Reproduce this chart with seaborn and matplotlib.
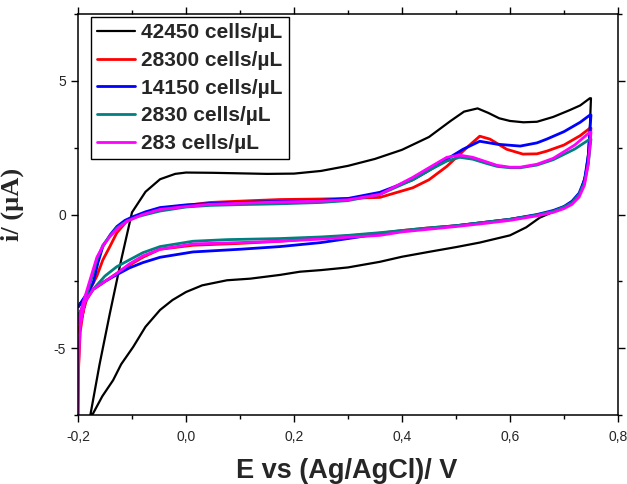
import numpy as np
import pandas as pd
import matplotlib
matplotlib.use("Agg")
import matplotlib.pyplot as plt
import matplotlib.ticker as mticker
import seaborn as sns

# potential (V) / current (uA): forward scan then reverse scan
e_42450 = [-0.178, -0.16, -0.141, -0.12, -0.10, -0.075, -0.048, -0.02, 0.0, 0.05, 0.10, 0.15, 0.20,
           0.25, 0.30, 0.35, 0.40, 0.45, 0.49, 0.515, 0.54, 0.56, 0.58, 0.60, 0.625, 0.65, 0.68, 0.71,
           0.73, 0.748,
           0.75, 0.748, 0.745, 0.74, 0.73, 0.715, 0.70, 0.68, 0.655, 0.63, 0.60, 0.544, 0.50, 0.452,
           0.40, 0.359, 0.30, 0.25, 0.211, 0.174, 0.119, 0.076, 0.03, 0.0, -0.025, -0.048, -0.075,
           -0.098, -0.12, -0.135, -0.155, -0.172, -0.18]
i_42450 = [-7.6, -5.6, -3.7, -1.7, 0.08, 0.85, 1.32, 1.52, 1.57, 1.56, 1.54, 1.52, 1.53,
           1.63, 1.82, 2.08, 2.42, 2.9, 3.5, 3.85, 3.97, 3.8, 3.6, 3.5, 3.45, 3.47, 3.65, 3.9,
           4.08, 4.35,
           4.35, 3.3, 2.3, 1.5, 0.8, 0.45, 0.3, 0.1, -0.12, -0.48, -0.78, -1.05, -1.22, -1.39,
           -1.58, -1.77, -1.98, -2.08, -2.14, -2.26, -2.4, -2.46, -2.65, -2.9, -3.2, -3.57, -4.2,
           -4.96, -5.6, -6.2, -6.8, -7.44, -7.7]

e_28300 = [-0.2, -0.19, -0.18, -0.165, -0.154, -0.141, -0.128, -0.11, -0.09, -0.072, -0.045, -0.017,
           0.044, 0.10, 0.174, 0.25, 0.30, 0.359, 0.42, 0.45, 0.483, 0.52, 0.544, 0.563, 0.594, 0.624,
           0.65, 0.668, 0.70, 0.73, 0.748,
           0.75, 0.745, 0.738, 0.728, 0.715, 0.70, 0.68, 0.65, 0.60, 0.55, 0.50, 0.45, 0.40, 0.359,
           0.30, 0.25, 0.174, 0.10, 0.013, -0.048, -0.08, -0.105, -0.128, -0.15, -0.172, -0.188,
           -0.196, -0.199, -0.2]
i_28300 = [-4.4, -3.6, -2.9, -2.3, -1.7, -1.2, -0.68, -0.26, -0.05, 0.07, 0.2, 0.3,
           0.45, 0.5, 0.56, 0.58, 0.6, 0.64, 1.0, 1.3, 1.8, 2.5, 2.93, 2.82, 2.44, 2.26,
           2.27, 2.37, 2.6, 2.95, 3.23,
           3.23, 2.0, 1.2, 0.72, 0.42, 0.25, 0.1, -0.02, -0.18, -0.3, -0.42, -0.5, -0.6, -0.7,
           -0.8, -0.88, -1.0, -1.08, -1.15, -1.3, -1.6, -1.9, -2.2, -2.5, -2.8, -3.3,
           -4.4, -5.8, -7.8]

e_14150 = [-0.2, -0.185, -0.172, -0.163, -0.154, -0.14, -0.128, -0.113, -0.098, -0.075, -0.048, 0.0,
           0.044, 0.10, 0.174, 0.25, 0.30, 0.359, 0.42, 0.45, 0.483, 0.513, 0.544, 0.576, 0.619, 0.65,
           0.668, 0.70, 0.73, 0.748,
           0.75, 0.745, 0.738, 0.728, 0.715, 0.70, 0.68, 0.65, 0.60, 0.55, 0.50, 0.45, 0.40, 0.359,
           0.30, 0.25, 0.174, 0.10, 0.013, -0.048, -0.08, -0.105, -0.128, -0.15, -0.172, -0.188, -0.2]
i_14150 = [-3.46, -3.0, -2.56, -1.8, -1.2, -0.75, -0.45, -0.22, -0.08, 0.1, 0.26, 0.36,
           0.41, 0.45, 0.49, 0.53, 0.6, 0.83, 1.3, 1.65, 2.07, 2.44, 2.74, 2.63, 2.56, 2.68,
           2.82, 3.1, 3.45, 3.72,
           3.72, 2.2, 1.3, 0.8, 0.5, 0.3, 0.15, 0.0, -0.18, -0.3, -0.42, -0.52, -0.62, -0.72,
           -0.9, -1.05, -1.2, -1.3, -1.4, -1.6, -1.8, -2.0, -2.25, -2.5, -2.8, -3.15, -3.46]

e_2830 = [-0.2, -0.19, -0.183, -0.172, -0.165, -0.154, -0.141, -0.128, -0.11, -0.09, -0.048, 0.0,
          0.044, 0.10, 0.174, 0.25, 0.30, 0.359, 0.42, 0.45, 0.483, 0.507, 0.531, 0.555, 0.576, 0.60,
          0.619, 0.65, 0.68, 0.72, 0.748,
          0.75, 0.745, 0.738, 0.728, 0.715, 0.70, 0.68, 0.65, 0.60, 0.55, 0.50, 0.45, 0.40, 0.359,
          0.30, 0.25, 0.174, 0.076, 0.013, -0.048, -0.08, -0.105, -0.128, -0.15, -0.172, -0.188, -0.2]
i_2830 = [-3.83, -3.4, -2.95, -2.2, -1.7, -1.15, -0.8, -0.5, -0.25, -0.08, 0.13, 0.28,
          0.34, 0.37, 0.4, 0.45, 0.52, 0.75, 1.3, 1.65, 2.0, 2.14, 2.07, 1.92, 1.8, 1.75,
          1.75, 1.85, 2.05, 2.45, 2.82,
          2.82, 1.9, 1.2, 0.75, 0.45, 0.28, 0.12, -0.02, -0.18, -0.3, -0.42, -0.5, -0.6, -0.68,
          -0.78, -0.84, -0.9, -0.94, -1.0, -1.2, -1.43, -1.7, -1.95, -2.3, -2.8, -3.3, -3.83]

e_283 = [-0.2, -0.192, -0.183, -0.174, -0.165, -0.153, -0.141, -0.125, -0.11, -0.08, -0.048, 0.0,
         0.044, 0.10, 0.174, 0.25, 0.30, 0.359, 0.42, 0.45, 0.483, 0.507, 0.531, 0.555, 0.576, 0.60,
         0.619, 0.65, 0.68, 0.72, 0.748,
         0.75, 0.745, 0.738, 0.728, 0.715, 0.70, 0.68, 0.65, 0.60, 0.55, 0.50, 0.45, 0.40, 0.359,
         0.30, 0.25, 0.174, 0.10, 0.013, -0.048, -0.08, -0.105, -0.128, -0.15, -0.172, -0.188,
         -0.196, -0.199, -0.2]
i_283 = [-4.06, -3.4, -2.8, -2.2, -1.6, -1.15, -0.83, -0.5, -0.26, 0.0, 0.19, 0.3,
         0.38, 0.42, 0.47, 0.5, 0.55, 0.75, 1.39, 1.75, 2.14, 2.22, 2.14, 1.98, 1.84, 1.77,
         1.77, 1.88, 2.1, 2.6, 3.08,
         3.08, 1.9, 1.1, 0.65, 0.38, 0.22, 0.08, -0.05, -0.22, -0.34, -0.45, -0.55, -0.65, -0.78,
         -0.85, -0.92, -1.0, -1.05, -1.1, -1.3, -1.55, -1.85, -2.2, -2.5, -2.8, -3.3,
         -4.2, -5.6, -7.8]

labels = ["42450 cells/\u00b5L", "28300 cells/\u00b5L", "14150 cells/\u00b5L",
          "2830 cells/\u00b5L", "283 cells/\u00b5L"]
colors = ["#000000", "#FF0000", "#0000FF", "#008080", "#FF00FF"]
widths = [1.6, 2.0, 2.0, 2.0, 2.0]

sns.set_theme(style="ticks")
plt.rcParams["font.family"] = ["Liberation Sans", "DejaVu Sans"]
plt.rcParams["axes.linewidth"] = 1.1

fig = plt.figure(figsize=(6.27, 4.84), dpi=100)
ax = fig.add_axes([0.1244, 0.1426, 0.8612, 0.8284])

series = [(e_42450, i_42450), (e_28300, i_28300), (e_14150, i_14150),
          (e_2830, i_2830), (e_283, i_283)]
for (e, cur), lab, col, lw in zip(series, labels, colors, widths):
    df = pd.DataFrame({"E": e, "I": cur})
    sns.lineplot(data=df, x="E", y="I", sort=False, estimator=None, color=col,
                 linewidth=lw, label=lab, ax=ax)

ax.set_xlim(-0.2, 0.8)
ax.set_ylim(-7.5, 7.5)
ax.xaxis.set_major_locator(mticker.MultipleLocator(0.2))
ax.xaxis.set_minor_locator(mticker.MultipleLocator(0.1))
ax.yaxis.set_major_locator(mticker.MultipleLocator(5))
ax.yaxis.set_minor_locator(mticker.MultipleLocator(2.5))
ax.xaxis.set_major_formatter(mticker.FuncFormatter(lambda v, p: f"{v:.1f}".replace(".", ",")))
ax.yaxis.set_major_formatter(mticker.FuncFormatter(lambda v, p: f"{v:.0f}"))
ax.tick_params(which="both", direction="out", top=True, right=True, labelsize=10, width=1.0, color="black")
ax.tick_params(which="major", length=5)
ax.tick_params(which="minor", length=3)
ax.tick_params(axis="x", which="major", pad=6)
for s in ax.spines.values():
    s.set_visible(True)
    s.set_color("black")

ax.set_xlabel("E vs (Ag/AgCl)/ V", fontsize=19.5, fontweight="bold")
ax.xaxis.set_label_coords(0.498, -0.108)
ax.set_ylabel("i/ (\u00b5A)", fontsize=19, fontweight="bold", family=["Liberation Serif", "DejaVu Serif"])
ax.yaxis.set_label_coords(-0.1, 0.526)

leg = ax.legend(loc="upper left", bbox_to_anchor=(0.024, 0.993), borderaxespad=0,
                prop={"weight": "bold", "size": 15}, frameon=True, fancybox=False,
                edgecolor="black", framealpha=1, handlelength=1.8, labelspacing=0.42,
                borderpad=0.3, handletextpad=0.3)
leg.get_frame().set_linewidth(1.0)

fig.savefig("out.png", dpi=100)
